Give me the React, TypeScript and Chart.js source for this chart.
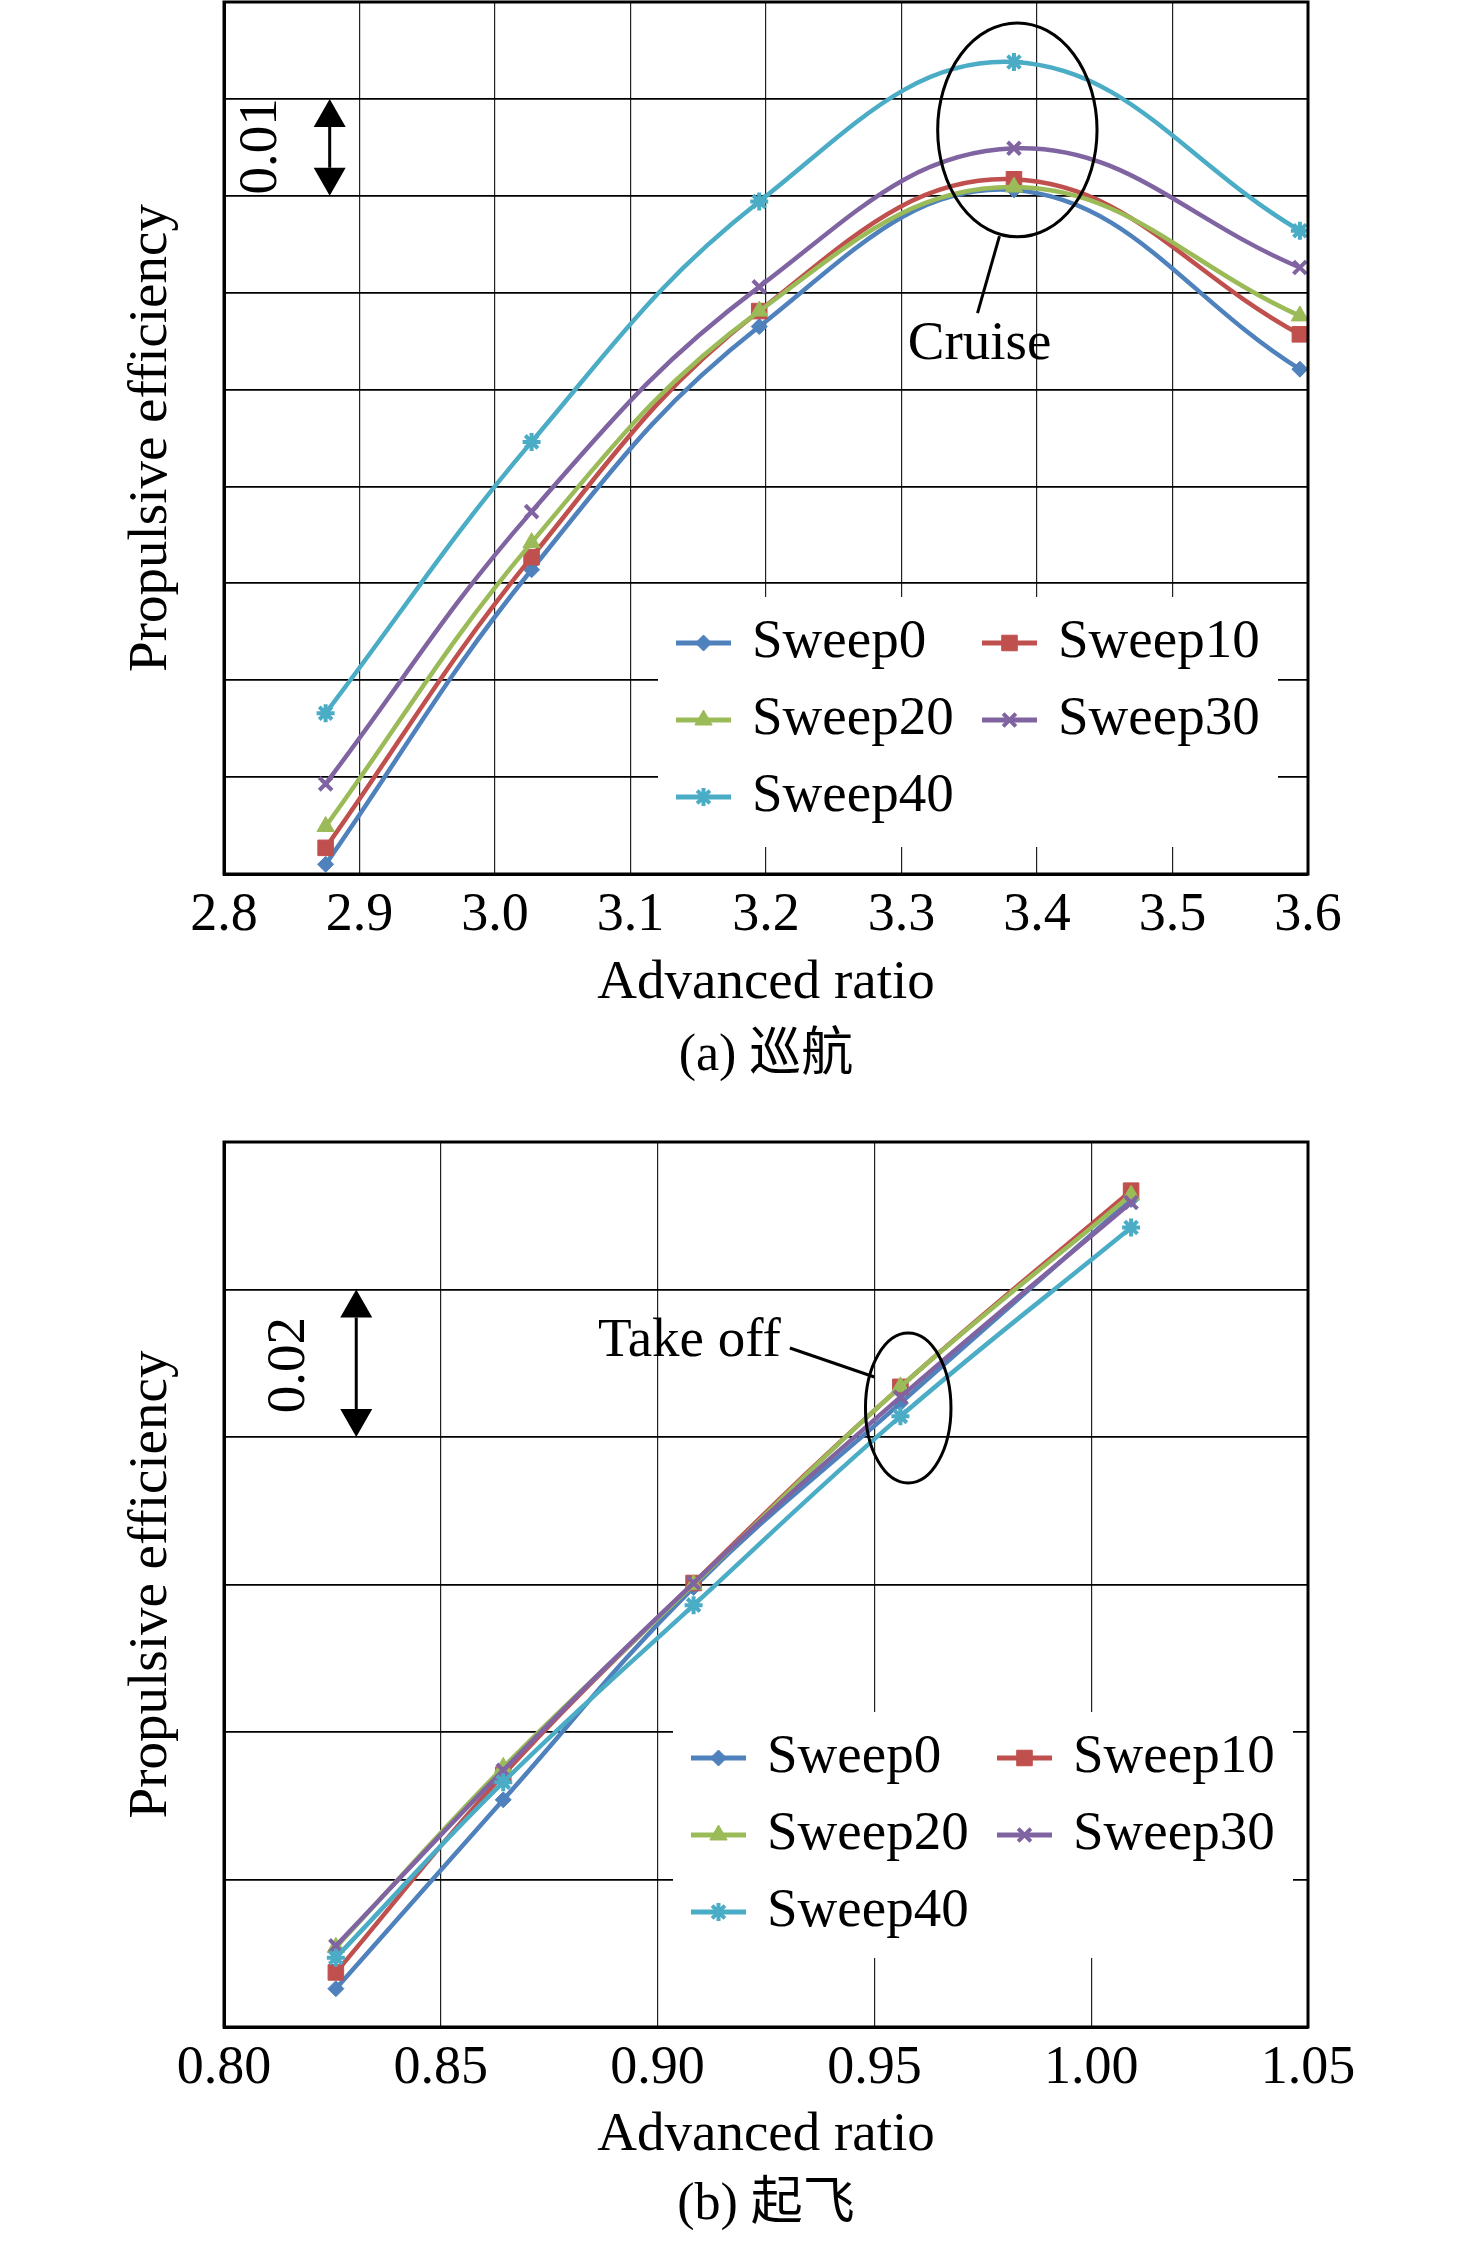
import { useEffect, useRef } from "react"
import { Chart, registerables } from "chart.js"
import { drawPoint } from "chart.js/helpers"

Chart.register(...registerables)

const SERIF = '"Liberation Serif", "Times New Roman", "Noto Sans CJK SC", serif'

// series shared by both panels
const seriesNames = ["Sweep0", "Sweep10", "Sweep20", "Sweep30", "Sweep40"]
const seriesColors = ["#4F81BD", "#C0504D", "#9BBB59", "#8064A2", "#4BACC6"]
const seriesMarkers = ["rectRot", "rect", "triangle", "crossRot", "star"]

// (a) cruise
const cruiseRatio = [2.875, 3.027, 3.195, 3.383, 3.594]
const cruiseSweep0 = [0.801, 0.8314, 0.8565, 0.8706, 0.8521]
const cruiseSweep10 = [0.8027, 0.8327, 0.8581, 0.8717, 0.8557]
const cruiseSweep20 = [0.8049, 0.8342, 0.8581, 0.8709, 0.8576]
const cruiseSweep30 = [0.8093, 0.8374, 0.8606, 0.8749, 0.8626]
const cruiseSweep40 = [0.8166, 0.8446, 0.8694, 0.8838, 0.8664]
const cruiseXTicks = [2.8, 2.9, 3.0, 3.1, 3.2, 3.3, 3.4, 3.5, 3.6]
const cruiseYTicks = [0.8, 0.81, 0.82, 0.83, 0.84, 0.85, 0.86, 0.87, 0.88, 0.89]

// (b) take off
const takeoffRatio = [0.8258, 0.8644, 0.9083, 0.956, 1.0092]
const takeoffSweep0 = [0.6052, 0.6308, 0.6596, 0.6846, 0.7122]
const takeoffSweep10 = [0.6074, 0.6342, 0.6602, 0.6868, 0.7134]
const takeoffSweep20 = [0.6108, 0.6352, 0.66, 0.6868, 0.7128]
const takeoffSweep30 = [0.611, 0.6348, 0.6602, 0.6854, 0.7118]
const takeoffSweep40 = [0.6094, 0.6332, 0.6572, 0.6828, 0.7084]
const takeoffXTicks = [0.8, 0.85, 0.9, 0.95, 1.0, 1.05]
const takeoffYTicks = [0.6, 0.62, 0.64, 0.66, 0.68, 0.7, 0.72]

const markerRadius: Record<string, number> = { rectRot: 8, rect: 11, triangle: 10, crossRot: 9, star: 9 }
const markerStroke: Record<string, number> = { rectRot: 1, rect: 1, triangle: 1, crossRot: 4, star: 4 }

// white legend box with 2 columns, drawn over the grid but under the curves
const boxLegend = {
  id: "boxLegend",
  beforeDatasetsDraw(chart: any, _args: any, opts: any) {
    const { ctx } = chart
    ctx.save()
    ctx.fillStyle = "#fff"
    ctx.fillRect(opts.left, opts.top, opts.width, opts.height)
    chart.data.datasets.forEach((ds: any, i: number) => {
      const x = opts.left + 18 + (i % 2) * 306
      const y = opts.top + 46 + Math.floor(i / 2) * 77
      ctx.strokeStyle = ds.borderColor
      ctx.lineWidth = 5
      ctx.beginPath()
      ctx.moveTo(x, y)
      ctx.lineTo(x + 55, y)
      ctx.stroke()
      ctx.fillStyle = ds.backgroundColor
      ctx.lineWidth = ds.pointBorderWidth
      drawPoint(ctx, { pointStyle: ds.pointStyle, radius: ds.pointRadius, borderWidth: ds.pointBorderWidth, rotation: 0 }, x + 27.5, y)
      ctx.fillStyle = "#000"
      ctx.font = `55px ${SERIF}`
      ctx.textAlign = "left"
      ctx.textBaseline = "middle"
      ctx.fillText(ds.label, x + 76, y)
    })
    ctx.restore()
  },
}

// span arrow, ellipse and callout text
const notes = {
  id: "notes",
  afterDatasetsDraw(chart: any, _args: any, o: any) {
    const { ctx, scales } = chart
    const px = (v: number) => scales.x.getPixelForValue(v)
    const py = (v: number) => scales.y.getPixelForValue(v)
    ctx.save()
    ctx.fillStyle = "#000"
    ctx.strokeStyle = "#000"
    ctx.font = `55px ${SERIF}`
    ctx.textAlign = "center"
    ctx.textBaseline = "middle"

    ctx.save()
    ctx.translate(px(o.span.textX), py(o.span.textY))
    ctx.rotate(-Math.PI / 2)
    ctx.fillText(o.span.text, 0, 0)
    ctx.restore()

    const ax = px(o.span.x)
    const yTop = py(o.span.to)
    const yBot = py(o.span.from)
    const hw = 16
    const hh = 28
    ctx.lineWidth = 3
    ctx.beginPath()
    ctx.moveTo(ax, yTop + hh)
    ctx.lineTo(ax, yBot - hh)
    ctx.stroke()
    ctx.beginPath()
    ctx.moveTo(ax, yTop)
    ctx.lineTo(ax - hw, yTop + hh)
    ctx.lineTo(ax + hw, yTop + hh)
    ctx.closePath()
    ctx.moveTo(ax, yBot)
    ctx.lineTo(ax - hw, yBot - hh)
    ctx.lineTo(ax + hw, yBot - hh)
    ctx.closePath()
    ctx.fill()

    const e = o.ellipse
    ctx.beginPath()
    ctx.ellipse(
      px(e.cx),
      py(e.cy),
      Math.abs(px(e.cx + e.rx) - px(e.cx)),
      Math.abs(py(e.cy + e.ry) - py(e.cy)),
      0,
      0,
      Math.PI * 2
    )
    ctx.stroke()

    ctx.beginPath()
    ctx.moveTo(px(o.leader.x1), py(o.leader.y1))
    ctx.lineTo(px(o.leader.x2), py(o.leader.y2))
    ctx.stroke()

    ctx.fillText(o.label.text, px(o.label.x), py(o.label.y))
    ctx.restore()
  },
}

// full box round the plot
const frame = {
  id: "frame",
  afterDraw(chart: any) {
    const { ctx, chartArea: a } = chart
    ctx.save()
    ctx.strokeStyle = "#000"
    ctx.lineWidth = 3
    ctx.strokeRect(a.left, a.top, a.right - a.left, a.bottom - a.top)
    ctx.restore()
  },
}

function PanelChart(props: any) {
  const chartRef = useRef<HTMLCanvasElement>(null)
  const chartInstance = useRef<Chart | null>(null)

  useEffect(() => {
    if (!chartRef.current) return
    if (chartInstance.current) chartInstance.current.destroy()
    const ctx = chartRef.current.getContext("2d")
    if (!ctx) return

    const datasets = props.series.map((values: number[], i: number) => ({
      label: seriesNames[i],
      data: props.ratio.map((x: number, j: number) => ({ x, y: values[j] })),
      borderColor: seriesColors[i],
      backgroundColor: seriesColors[i],
      borderWidth: 4.5,
      tension: 0.4,
      pointStyle: seriesMarkers[i],
      pointRadius: markerRadius[seriesMarkers[i]],
      pointBorderWidth: markerStroke[seriesMarkers[i]],
      order: seriesNames.length - i,
    }))

    chartInstance.current = new Chart(ctx, {
      type: "line",
      data: { datasets },
      plugins: [boxLegend, notes, frame],
      options: {
        animation: false,
        responsive: true,
        maintainAspectRatio: false,
        layout: {
          autoPadding: false,
          padding: { left: 0, right: 168, top: props.padTop, bottom: props.padBottom },
        },
        scales: {
          x: {
            type: "linear",
            min: props.xTicks[0],
            max: props.xTicks[props.xTicks.length - 1],
            afterBuildTicks: (scale: any) => {
              scale.ticks = props.xTicks.map((value: number) => ({ value }))
            },
            afterFit: (scale: any) => {
              scale.height = props.xAxisHeight
            },
            grid: { color: "#222", lineWidth: 1.2, drawTicks: false },
            border: { display: true, color: "#000", width: 3 },
            ticks: {
              color: "#000",
              padding: 9.6,
              maxRotation: 0,
              font: { family: SERIF, size: 54 },
              callback: (v: any) => Number(v).toFixed(props.xDecimals),
            },
            title: {
              display: true,
              text: "Advanced ratio",
              color: "#000",
              font: { family: SERIF, size: 55 },
              padding: { top: 0, bottom: props.xTitlePad },
            },
          },
          y: {
            min: props.yTicks[0],
            max: props.yTicks[props.yTicks.length - 1],
            afterBuildTicks: (scale: any) => {
              scale.ticks = props.yTicks.map((value: number) => ({ value }))
            },
            afterFit: (scale: any) => {
              scale.width = 224
            },
            grid: { color: "#000", lineWidth: 1.8, drawTicks: false },
            border: { display: true, color: "#000", width: 3 },
            ticks: { display: false },
            title: {
              display: true,
              text: "Propulsive efficiency",
              color: "#000",
              font: { family: SERIF, size: 55 },
              padding: { top: 119, bottom: 0 },
            },
          },
        },
        plugins: {
          legend: { display: false },
          tooltip: { enabled: false },
          title: {
            display: true,
            fullSize: false,
            position: "bottom",
            text: props.caption,
            color: "#000",
            font: { family: SERIF, size: 52, weight: "normal", lineHeight: 1.2 },
            padding: 0,
          },
          boxLegend: props.legendBox,
          notes: props.notes,
        } as any,
      },
    } as any)

    return () => {
      if (chartInstance.current) {
        chartInstance.current.destroy()
        chartInstance.current = null
      }
    }
  }, [])

  return (
    <div style={{ position: "absolute", left: 0, top: props.top, width: 1476, height: props.height }}>
      <canvas ref={chartRef}></canvas>
    </div>
  )
}

export default function App() {
  return (
    <div
      style={{
        position: "absolute",
        left: 0,
        top: 0,
        width: 1476,
        height: 2244,
        overflow: "hidden",
        background: "#fff",
      }}
    >
      <PanelChart
        top={0}
        height={1100}
        padTop={2}
        padBottom={12.8}
        xAxisHeight={150.8}
        xTitlePad={7.8}
        ratio={cruiseRatio}
        series={[cruiseSweep0, cruiseSweep10, cruiseSweep20, cruiseSweep30, cruiseSweep40]}
        xTicks={cruiseXTicks}
        yTicks={cruiseYTicks}
        xDecimals={1}
        caption="(a) 巡航"
        legendBox={{ left: 658, top: 597, width: 620, height: 250 }}
        notes={{
          span: { text: "0.01", textX: 2.828, textY: 0.8751, x: 2.878, from: 0.87, to: 0.88 },
          ellipse: { cx: 3.3855, cy: 0.8768, rx: 0.0588, ry: 0.01104 },
          leader: { x1: 3.3723, y1: 0.86584, x2: 3.3561, y2: 0.85789 },
          label: { text: "Cruise", x: 3.3576, y: 0.8546 },
        }}
      />
      <PanelChart
        top={1120}
        height={1140}
        padTop={22}
        padBottom={23.8}
        xAxisHeight={146.8}
        xTitlePad={4.8}
        ratio={takeoffRatio}
        series={[takeoffSweep0, takeoffSweep10, takeoffSweep20, takeoffSweep30, takeoffSweep40]}
        xTicks={takeoffXTicks}
        yTicks={takeoffYTicks}
        xDecimals={2}
        caption="(b) 起飞"
        legendBox={{ left: 673, top: 592, width: 620, height: 246 }}
        notes={{
          span: { text: "0.02", textX: 0.81514, textY: 0.68976, x: 0.8305, from: 0.68, to: 0.7 },
          ellipse: { cx: 0.9578, cy: 0.68393, rx: 0.00986, ry: 0.01017 },
          leader: { x1: 0.9305, y1: 0.69207, x2: 0.95, y2: 0.68814 },
          label: { text: "Take off", x: 0.90734, y: 0.69288 },
        }}
      />
    </div>
  )
}
